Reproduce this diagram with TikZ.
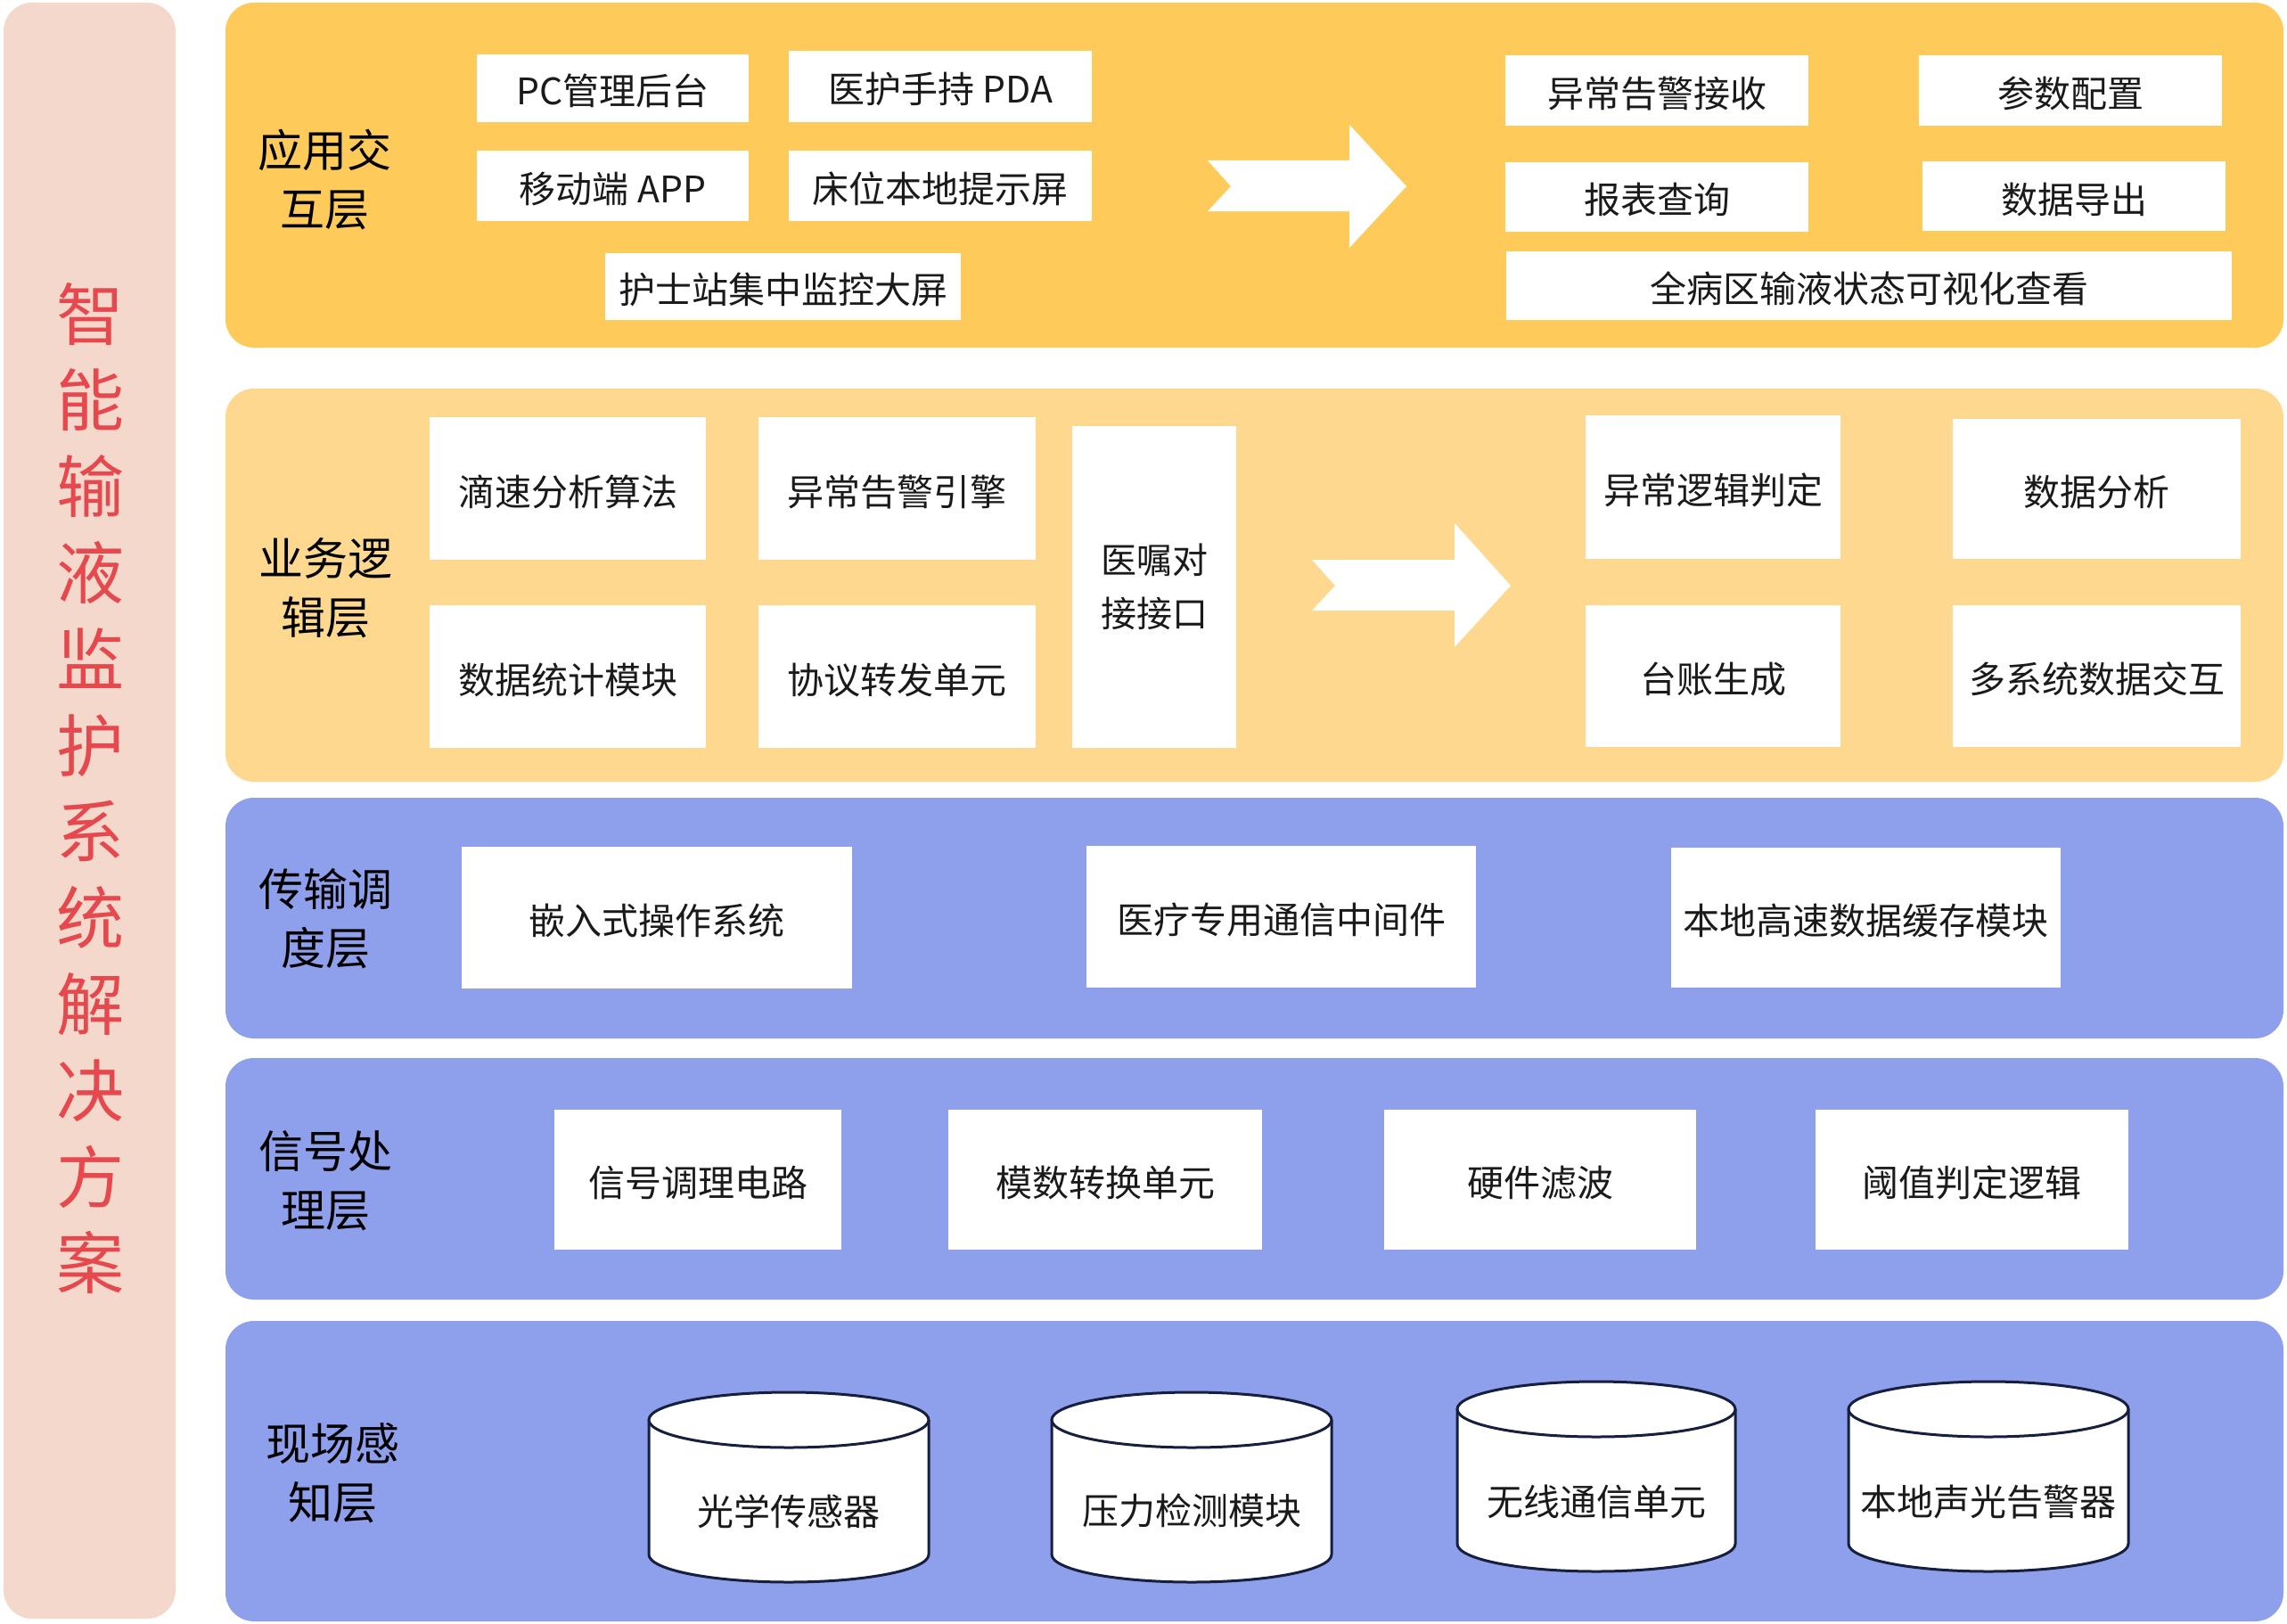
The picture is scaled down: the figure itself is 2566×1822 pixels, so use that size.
\documentclass[tikz,border=0pt]{standalone}
\usepackage{fontspec}
\setmainfont{Noto Sans CJK SC}
\definecolor{layA}{RGB}{254,203,90}
\definecolor{layB}{RGB}{253,216,142}
\definecolor{layC}{RGB}{142,160,236}
\definecolor{sidebar}{RGB}{245,216,204}
\definecolor{titlered}{RGB}{229,72,77}
\definecolor{cylline}{RGB}{22,32,62}
\definecolor{txt}{RGB}{26,26,26}
\begin{document}
\begin{tikzpicture}[x=1pt,y=-1pt,
  wboxbase/.style={fill=white, draw=none, inner sep=0pt, text=txt, font=\fontsize{41}{48}\selectfont},
  wbox/.style={wboxbase, text height=38pt, text depth=0pt},
  layer/.style={rounded corners=32pt, inner sep=0pt, draw=none},
  lab/.style={align=center, inner sep=0pt, text=black, font=\fontsize{50}{66}\selectfont},
  cyltext/.style={inner sep=0pt, text=txt, font=\fontsize{41}{48}\selectfont},
  cyl/.style={draw=cylline, line width=3pt, fill=white},
  bigarrow/.style={fill=white, draw=none}
]
\useasboundingbox (0,0) rectangle (2566,1822);
\fill[white] (0,0) rectangle (2566,1822);

% sidebar
\node[layer, fill=sidebar, minimum width=193pt, minimum height=1813pt] (side) at (100.5,909.5) {};
\node[align=center, inner sep=0pt, text=titlered, font=\fontsize{76}{96.8}\selectfont] (title) at (101,884.5)
  {智\\能\\输\\液\\监\\护\\系\\统\\解\\决\\方\\案};

% layers
\node[layer, fill=layA, minimum width=2309pt, minimum height=387pt] (L1) at (1407.5,196.5) {};
\node[layer, fill=layB, minimum width=2309pt, minimum height=441pt] (L2) at (1407.5,656.5) {};
\node[layer, fill=layC, minimum width=2309pt, minimum height=270pt] (L3) at (1407.5,1030) {};
\node[layer, fill=layC, minimum width=2309pt, minimum height=271pt] (L4) at (1407.5,1322.5) {};
\node[layer, fill=layC, minimum width=2309pt, minimum height=337pt] (L5) at (1407.5,1650.5) {};

% layer labels
\node[lab] (lab1) at (364,201) {应用交\\互层};
\node[lab] (lab2) at (365,660) {业务逻\\辑层};
\node[lab] (lab3) at (365,1031) {传输调\\度层};
\node[lab] (lab4) at (365,1325) {信号处\\理层};
\node[lab] (lab5) at (373,1653) {现场感\\知层};

% layer 1 boxes
\node[wbox, minimum width=305pt, minimum height=76pt] (pc) at (687.5,99) {PC管理后台};
\node[wbox, minimum width=340pt, minimum height=80pt] (pda) at (1055,97) {医护手持 PDA};
\node[wbox, minimum width=305pt, minimum height=79pt] (app) at (687.5,208.5) {移动端 APP};
\node[wbox, minimum width=340pt, minimum height=79pt] (bed) at (1055,208.5) {床位本地提示屏};
\node[wbox, minimum width=399pt, minimum height=75pt] (nurse) at (878.5,321.5) {护士站集中监控大屏};

\node[wbox, minimum width=340pt, minimum height=79pt] (alarm) at (1859,101.5) {异常告警接收};
\node[wbox, minimum width=340pt, minimum height=79pt] (param) at (2323,101.5) {参数配置};
\node[wbox, minimum width=340pt, minimum height=78pt] (report) at (1859,221) {报表查询};
\node[wbox, minimum width=340pt, minimum height=78pt] (export) at (2327,220) {数据导出};
\node[wbox, minimum width=814pt, minimum height=77pt] (view) at (2097,320.5) {全病区输液状态可视化查看};

\fill[bigarrow] (1355,180) -- (1514,180) -- (1514,140) -- (1578,209) -- (1514,278) -- (1514,237) -- (1355,237) -- (1381,209) -- cycle;

% layer 2 boxes
\node[wbox, minimum width=310pt, minimum height=160pt] (drip) at (637,548) {滴速分析算法};
\node[wbox, minimum width=311pt, minimum height=160pt] (aleng) at (1006.5,548) {异常告警引擎};
\node[wbox, minimum width=310pt, minimum height=160pt] (stat) at (637,759) {数据统计模块};
\node[wbox, minimum width=311pt, minimum height=160pt] (proto) at (1006.5,759) {协议转发单元};
\node[wboxbase, align=center, font=\fontsize{40}{60}\selectfont, minimum width=184pt, minimum height=361pt] (order) at (1295,658.5) {医嘱对\\接接口};
\node[wbox, minimum width=286pt, minimum height=161pt] (logic) at (1922,546.5) {异常逻辑判定};
\node[wbox, minimum width=323pt, minimum height=157pt] (anal) at (2352.5,548.5) {数据分析};
\node[wbox, minimum width=286pt, minimum height=159pt] (ledger) at (1922,758.5) {台账生成};
\node[wbox, minimum width=323pt, minimum height=159pt] (multi) at (2352.5,758.5) {多系统数据交互};

\fill[bigarrow] (1472,628) -- (1632,628) -- (1632,587) -- (1695,657) -- (1632,726) -- (1632,685) -- (1472,685) -- (1498,657) -- cycle;

% layer 3 boxes
\node[wbox, minimum width=438pt, minimum height=159pt] (embed) at (737,1029.5) {嵌入式操作系统};
\node[wbox, minimum width=437pt, minimum height=159pt] (mid) at (1437.5,1028.5) {医疗专用通信中间件};
\node[wbox, minimum width=437pt, minimum height=157pt] (cache) at (2093.5,1029.5) {本地高速数据缓存模块};

% layer 4 boxes
\node[wbox, minimum width=322pt, minimum height=157pt] (cond) at (783,1323.5) {信号调理电路};
\node[wbox, minimum width=352pt, minimum height=157pt] (adc) at (1240,1323.5) {模数转换单元};
\node[wbox, minimum width=350pt, minimum height=157pt] (filt) at (1728,1323.5) {硬件滤波};
\node[wbox, minimum width=351pt, minimum height=157pt] (thr) at (2212.5,1323.5) {阈值判定逻辑};

% layer 5 cylinders
% cylinder 1
\fill[white] (728,1593) rectangle (1042,1744);
\draw[cyl] (728,1593) -- (728,1744) arc[start angle=180, end angle=360, x radius=157pt, y radius=31pt] -- (1042,1593);
\draw[cyl] (885,1593) ellipse [x radius=157pt, y radius=31pt];
\node[cyltext] (optic) at (885,1696) {光学传感器};
% cylinder 2
\fill[white] (1180,1593) rectangle (1494,1744);
\draw[cyl] (1180,1593) -- (1180,1744) arc[start angle=180, end angle=360, x radius=157pt, y radius=31pt] -- (1494,1593);
\draw[cyl] (1337,1593) ellipse [x radius=157pt, y radius=31pt];
\node[cyltext] (press) at (1337,1695) {压力检测模块};
% cylinder 3
\fill[white] (1635,1581) rectangle (1947,1732);
\draw[cyl] (1635,1581) -- (1635,1732) arc[start angle=180, end angle=360, x radius=156pt, y radius=31pt] -- (1947,1581);
\draw[cyl] (1791,1581) ellipse [x radius=156pt, y radius=31pt];
\node[cyltext] (wifi) at (1791,1685) {无线通信单元};
% cylinder 4
\fill[white] (2074,1581) rectangle (2388,1732);
\draw[cyl] (2074,1581) -- (2074,1732) arc[start angle=180, end angle=360, x radius=157pt, y radius=31pt] -- (2388,1581);
\draw[cyl] (2231,1581) ellipse [x radius=157pt, y radius=31pt];
\node[cyltext] (buzz) at (2231,1685) {本地声光告警器};
\end{tikzpicture}
\end{document}
